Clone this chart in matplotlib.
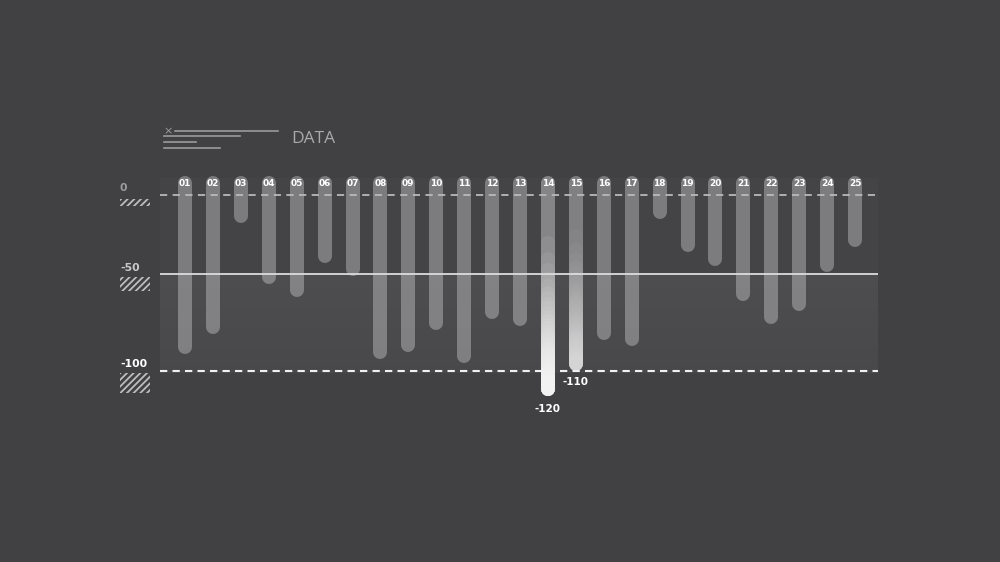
import numpy as np
import matplotlib
matplotlib.use("Agg")
import matplotlib.pyplot as plt
import matplotlib.transforms as mtransforms
from matplotlib.patches import Rectangle

# data
labels = ["%02d" % i for i in range(1, 26)]
values = [-91, -81, -18, -55, -62, -43, -51, -94, -90, -79, -96, -73, -77,
          -113, -100, -84, -87, -15, -36, -45, -64, -76, -69, -49, -33]
ref_levels = [0, -50, -100]
ref_labels = ["0", "-50", "-100"]
callouts = {14: "-120", 15: "-110"}
highlight_end = {14: 0.97, 15: 0.82}

BG = "#414043"
plt.rcParams["hatch.linewidth"] = 1.3


# the picture stretches the lower half a bit, so use a two-piece scale
def fwd(v):
    v = np.asarray(v, dtype=float)
    return np.where(v >= -50, v * 79 / 50, -79 + (v + 50) * 97 / 50)


def inv(p):
    p = np.asarray(p, dtype=float)
    return np.where(p >= -79, p * 50 / 79, -50 + (p + 79) * 50 / 97)


fig = plt.figure(figsize=(10, 5.62), dpi=100, facecolor=BG)
ax = fig.add_axes([0.160, 1 - 430 / 562, 0.718, 320 / 562])
ax.set_facecolor("none")
ax.set_yscale("function", functions=(fwd, inv))
ax.set_xlim(0.105, 25.82)
ax.set_ylim(-130.4, 53.8)
ax.axis("off")

# background panel
ax.add_patch(Rectangle((0, 10.8), 1, -60.8, transform=ax.get_yaxis_transform(),
                       facecolor="#444346", edgecolor="none", zorder=0))
steps = 30
edges = np.linspace(-50, -101, steps + 1)
for k in range(steps):
    t = k / steps
    c = np.array([0x4d, 0x4c, 0x4f]) * (1 - t) + np.array([0x48, 0x47, 0x4a]) * t
    ax.add_patch(Rectangle((0, edges[k]), 1, edges[k + 1] - edges[k],
                           transform=ax.get_yaxis_transform(),
                           facecolor=c / 255, edgecolor="none", zorder=0))

# reference lines
ax.axhline(0, color="#b9b8ba", lw=1.3, ls=(0, (4, 3)), zorder=5)
ax.axhline(-50, color="#dcdcdc", lw=1.3, zorder=5)
ax.axhline(-100, color="#f0f0f0", lw=1.5, ls=(0, (3.5, 2.5)), zorder=5)

# bars: thick round-capped lines, shifted by the cap radius
bar_px = 14
lw = bar_px * 72 / 100
shift = mtransforms.offset_copy(ax.transData, y=bar_px / 2, units="dots")
top = 3.2
xs = np.arange(1, len(values) + 1)
for x, v in zip(xs, values):
    ax.plot([x, x], [top, v], color="white", alpha=0.3, lw=lw,
            solid_capstyle="round", transform=shift, zorder=2)
    if x in highlight_end:
        # stack faint overlays that all end at the bottom -> white gradient
        n = 40
        a = 1 - ((1 - highlight_end[x]) / 0.7) ** (1 / n)
        for k in range(n):
            s = (k / n) ** (1 / 3)
            y0 = fwd(top) + s * (fwd(v) - fwd(top))
            ax.plot([x, x], [float(inv(y0)), v], color="white", alpha=a, lw=lw,
                    solid_capstyle="round", transform=shift, zorder=2)

for x, lab in zip(xs, labels):
    ax.text(x, 7, lab, color="white", fontsize=6.5, fontweight="bold",
            ha="center", va="center", zorder=6)

# callout values under the highlighted bars
ax.annotate(callouts[14], (14, values[13]), xytext=(0, -9.5), textcoords="offset points",
            ha="center", va="center", color="white", fontsize=7.5, fontweight="bold")
ax.annotate(callouts[15], (15, values[14]), xytext=(0, -8), textcoords="offset points",
            ha="center", va="center", color="white", fontsize=7.5, fontweight="bold")

# left scale labels with hatched blocks
label_cols = ["#9c9b9d", "#c9c8ca", "#ffffff"]
label_offs = [5, 4, 5]
hatch_spans = [(-2.5, -7.0), (-51.5, -58.8), (-101.0, -111.3)]
trans_y = ax.get_yaxis_transform()
x_left = (120 - 160) / 718
box_w = 30 / 718
for lvl, txt, col, off, (y0, y1) in zip(ref_levels, ref_labels, label_cols,
                                        label_offs, hatch_spans):
    ax.annotate(txt, (x_left, lvl), xycoords=trans_y, xytext=(0, off),
                textcoords="offset points", ha="left", va="center", color=col,
                fontsize=7.8, fontweight="bold", annotation_clip=False)
    ax.add_patch(Rectangle((x_left, y0), box_w, y1 - y0, transform=trans_y,
                           facecolor="none", edgecolor="#bdbcbe", lw=0,
                           hatch="/////", clip_on=False))


# header decoration
def fline(x0, x1, y, **kw):
    fig.add_artist(plt.Line2D([x0 / 1000, x1 / 1000], [1 - y / 562, 1 - y / 562],
                              transform=fig.transFigure, **kw))


fline(175, 278, 131, color="#9a999b", lw=1.2)
fline(164, 240, 136, color="#9a999b", lw=1.2)
fline(164, 196, 142, color="#9a999b", lw=1.2)
fline(164, 220, 148, color="#9a999b", lw=1.2)
fig.text(168 / 1000, 1 - 131 / 562, "×", color="#9a999b", fontsize=8,
         ha="center", va="center")
fig.text(291 / 1000, 1 - 139 / 562, "DATA", color="#a9a8aa", fontsize=12.5,
         family="Open Sans", ha="left", va="center")

fig.savefig("out.png", dpi=100, facecolor=BG)
